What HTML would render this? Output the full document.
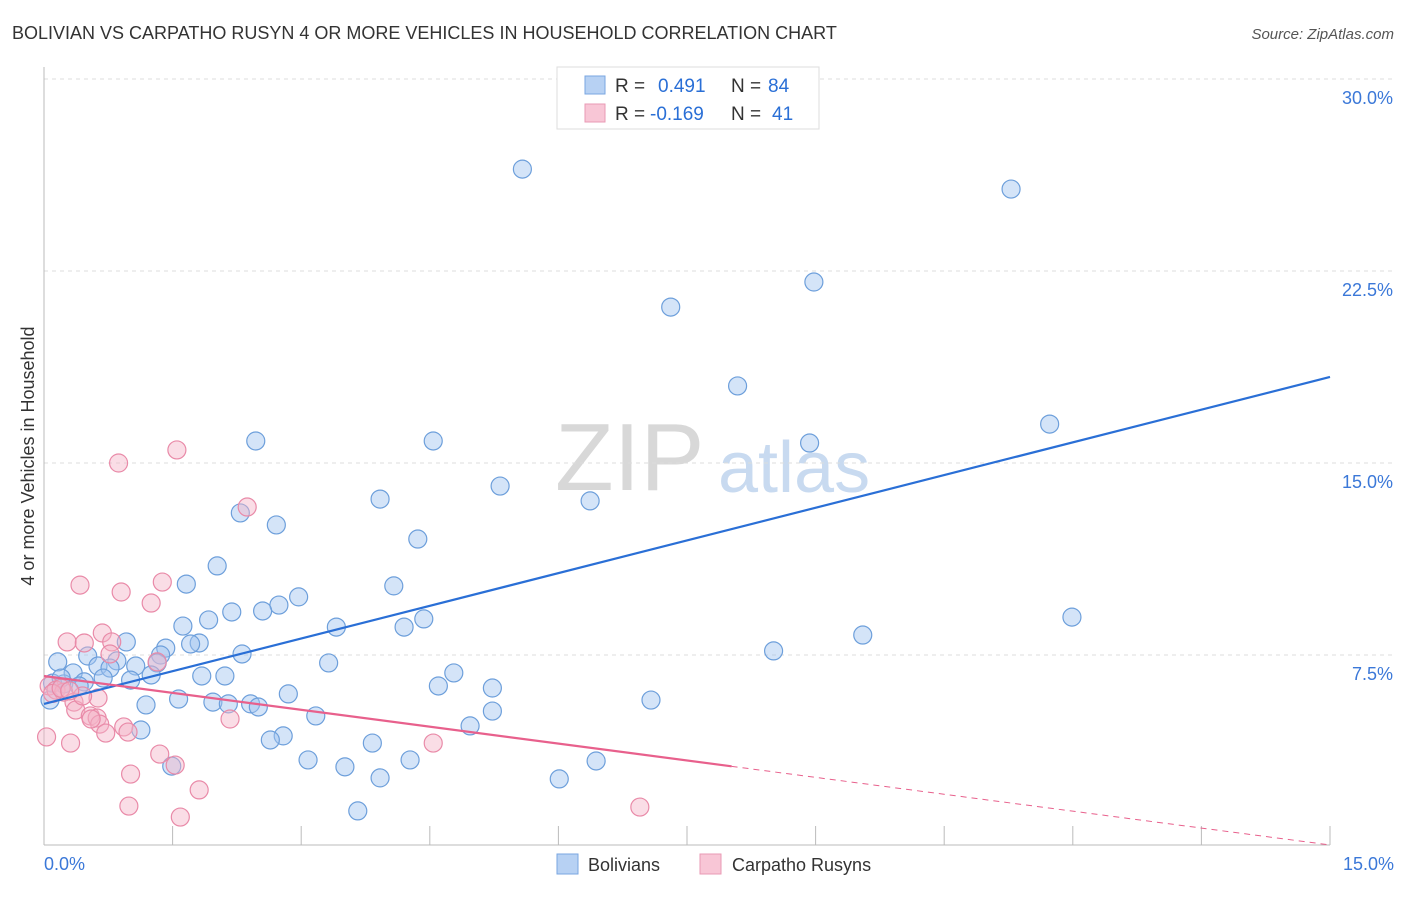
<!DOCTYPE html>
<html><head><meta charset="utf-8">
<style>
body{margin:0;background:#fff;font-family:"Liberation Sans",sans-serif;}
svg text{font-family:"Liberation Sans",sans-serif;}
</style></head>
<body>
<svg id="chart" width="1406" height="892" xmlns="http://www.w3.org/2000/svg">
<text x="12" y="39" font-size="18" fill="#333">BOLIVIAN VS CARPATHO RUSYN 4 OR MORE VEHICLES IN HOUSEHOLD CORRELATION CHART</text>
<text x="1394" y="39" font-size="15" fill="#555" text-anchor="end" font-style="italic">Source: ZipAtlas.com</text>
<text transform="translate(34,456) rotate(-90)" font-size="18" fill="#333" text-anchor="middle">4 or more Vehicles in Household</text>
<g>
<text x="555" y="490" font-size="96" fill="#d8d8d8" font-family="Liberation Serif">ZIP</text>
<text x="718" y="492" font-size="72" fill="#c8daf0">atlas</text>
</g>
<g id="grid"></g>
<g id="axes"></g>
<g id="pts"></g>
<g id="lines"></g>
<g>
<rect x="557" y="67" width="262" height="62" fill="#fff" stroke="#ddd"/>
<rect x="585" y="76" width="20" height="18" fill="#b7d1f3" stroke="#7aa6e0"/>
<text x="615" y="92" font-size="19" fill="#333">R = </text><text x="658" y="92" font-size="19" fill="#2a6fd6">0.491</text>
<text x="731" y="92" font-size="19" fill="#333">N = </text><text x="768" y="92" font-size="19" fill="#2a6fd6">84</text>
<rect x="585" y="104" width="20" height="18" fill="#f8c6d6" stroke="#e99ab4"/>
<text x="615" y="120" font-size="19" fill="#333">R = </text><text x="650" y="120" font-size="19" fill="#2a6fd6">-0.169</text>
<text x="731" y="120" font-size="19" fill="#333">N = </text><text x="772" y="120" font-size="19" fill="#2a6fd6">41</text>
</g>
<g>
<rect x="557" y="854" width="21" height="20" fill="#b7d1f3" stroke="#7aa6e0"/>
<text x="588" y="871" font-size="18" fill="#333">Bolivians</text>
<rect x="700" y="854" width="21" height="20" fill="#f8c6d6" stroke="#e99ab4"/>
<text x="732" y="871" font-size="18" fill="#333">Carpatho Rusyns</text>
</g>
</svg>
<script>
const blueX=[5.58,11.28,8.98,7.31,8.09,11.73,2.47,4.54,8.93,5.32,3.92,6.37,2.29,2.71,4.36,2.02,1.66,4.08,2.97,2.74,2.19,2.55,11.99,1.92,4.43,1.62,3.41,4.20,9.55,0.96,1.81,1.71,1.42,1.36,2.31,8.51,0.51,0.16,0.85,1.32,3.32,1.07,0.63,0.77,0.34,1.25,4.78,2.11,1.84,0.69,1.01,0.47,0.23,0.41,4.60,5.23,2.85,1.57,7.08,1.19,1.97,2.15,2.41,2.50,5.23,3.17,4.97,1.13,2.79,2.64,3.83,3.08,4.27,6.44,3.51,1.49,3.92,6.01,3.66,0.07,0.10,0.20];
const blueY=[26.48,25.70,22.07,21.09,18.01,16.52,15.86,15.86,15.78,14.10,13.59,13.52,13.05,12.58,12.03,10.98,10.27,10.20,9.77,9.45,9.18,9.22,8.98,8.87,8.91,8.63,8.59,8.59,8.28,8.01,7.97,7.93,7.77,7.50,7.54,7.66,7.46,7.23,7.27,7.19,7.19,7.07,7.07,6.99,6.80,6.72,6.80,6.68,6.68,6.60,6.52,6.45,6.37,6.29,6.29,6.21,5.98,5.78,5.74,5.55,5.66,5.59,5.59,5.47,5.31,5.12,4.73,4.57,4.34,4.18,4.06,3.40,3.40,3.36,3.13,3.16,2.70,2.66,1.41,5.74,6.4,6.6];
const pinkX=[0.87,1.55,2.37,1.38,0.42,0.90,1.25,0.27,0.47,0.68,0.79,0.77,1.32,0.06,0.14,0.23,0.35,0.63,0.37,0.54,0.62,0.93,0.65,2.17,0.72,0.98,0.03,0.31,4.54,1.35,1.53,1.01,1.81,0.99,1.59,6.95,0.10,0.20,0.45,0.55,0.30];
const pinkY=[15.0,15.51,13.28,10.35,10.23,9.96,9.53,8.01,7.97,8.36,8.01,7.54,7.23,6.29,6.13,6.05,5.66,5.82,5.35,5.12,5.04,4.69,4.80,5.00,4.45,4.49,4.30,4.06,4.06,3.63,3.20,2.85,2.23,1.60,1.17,1.56,6.0,6.2,5.9,5.0,6.1];
const blueTrend=[5.59,18.36];
const pinkTrend=[6.68,0.08];
const pinkSolidEnd=8.02;
const yTicks=[7.5,15,22.5,30];
const xTickVals=[0,1.5,3,4.5,6,7.5,9,10.5,12,13.5,15];
const NS="http://www.w3.org/2000/svg";
const X=v=>44+v/15*1286;
const Y=v=>847-v/7.5*192;
function mk(tag,attrs,parent){const e=document.createElementNS(NS,tag);for(const k in attrs)e.setAttribute(k,attrs[k]);parent.appendChild(e);return e;}
const grid=document.getElementById('grid'),axes=document.getElementById('axes'),pts=document.getElementById('pts'),lines=document.getElementById('lines');
yTicks.forEach(t=>{
 const l=mk('line',{x1:44,x2:1394,y1:Y(t),y2:Y(t),stroke:'#ddd','stroke-dasharray':'4,4'},grid);
 
 
 const tx=mk('text',{x:1393,y:Y(t)+25,'font-size':18,fill:'#3b78d8','text-anchor':'end'},axes);
 tx.textContent=t.toFixed(1)+'%';
 
 
});
mk('line',{x1:44,x2:44,y1:67,y2:845,stroke:'#bbb'},axes);
mk('line',{x1:44,x2:1330,y1:845,y2:845,stroke:'#bbb'},axes);
xTickVals.forEach(t=>{
 const l=mk('line',{x1:X(t),x2:X(t),y1:826,y2:845,stroke:'#bbb'},axes);
 
 
});
const xl0=mk('text',{x:44,y:870,'font-size':18,fill:'#3b78d8'},axes);xl0.textContent='0.0%';


const xl1=mk('text',{x:1394,y:870,'font-size':18,fill:'#3b78d8','text-anchor':'end'},axes);xl1.textContent='15.0%';


blueX.forEach((v,i)=>{
 const c=mk('circle',{cx:X(v),cy:Y(blueY[i]),r:9,fill:'rgba(160,195,240,0.45)',stroke:'#6d9fdb','stroke-width':1.2},pts);
 
 
});
pinkX.forEach((v,i)=>{
 const c=mk('circle',{cx:X(v),cy:Y(pinkY[i]),r:9,fill:'rgba(245,180,200,0.45)',stroke:'#e98aa8','stroke-width':1.2},pts);
 
 
});
const bl=mk('line',{x1:X(0),y1:Y(blueTrend[0]),x2:X(15),y2:Y(blueTrend[1]),stroke:'#2a6fd6','stroke-width':2.2},lines);


const pAt=x=>pinkTrend[0]+(pinkTrend[1]-pinkTrend[0])*x/15;
const pl=mk('line',{x1:X(0),y1:Y(pinkTrend[0]),x2:X(pinkSolidEnd),y2:Y(pAt(pinkSolidEnd)),stroke:'#e8608c','stroke-width':2.2},lines);


const pd=mk('line',{x1:X(pinkSolidEnd),y1:Y(pAt(pinkSolidEnd)),x2:X(15),y2:Y(pinkTrend[1]),stroke:'#e8608c','stroke-width':1,'stroke-dasharray':'6,5'},lines);


</script>
</body></html>
